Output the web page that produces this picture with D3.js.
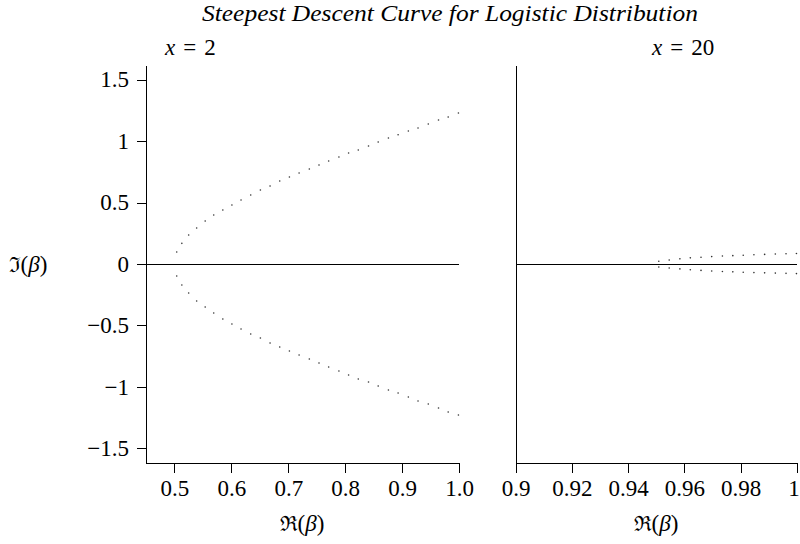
<!DOCTYPE html>
<html>
<head>
<meta charset="utf-8">
<script src="https://cdn.jsdelivr.net/npm/d3@7"></script>
<style>
  html, body { margin: 0; padding: 0; background: #fff; }
  svg { display: block; }
  .axis path, .axis line { stroke: #000; stroke-width: 1; shape-rendering: crispEdges; }
</style>
</head>
<body>
<svg id="chart" width="800" height="544"></svg>
<script>
// Steepest descent path points, x = 2 (real part, upper and lower imaginary parts)
const re2 = [0.504, 0.513, 0.525, 0.539, 0.554, 0.569, 0.585, 0.601, 0.617, 0.634, 0.651,
             0.668, 0.685, 0.702, 0.719, 0.737, 0.754, 0.771, 0.789, 0.806, 0.823, 0.841,
             0.858, 0.876, 0.893, 0.911, 0.928, 0.946, 0.964, 0.981, 0.999];
const imUpper2 = [0.098, 0.168, 0.236, 0.293, 0.350, 0.398, 0.439, 0.480, 0.520, 0.561, 0.602,
                  0.634, 0.675, 0.707, 0.740, 0.772, 0.805, 0.837, 0.870, 0.902, 0.927, 0.959,
                  0.992, 1.024, 1.051, 1.081, 1.106, 1.138, 1.171, 1.195, 1.228];
const imLower2 = [-0.098, -0.171, -0.236, -0.301, -0.350, -0.398, -0.447, -0.488, -0.528, -0.569, -0.602,
                  -0.642, -0.675, -0.707, -0.740, -0.772, -0.805, -0.837, -0.870, -0.902, -0.935, -0.959,
                  -0.992, -1.024, -1.049, -1.081, -1.114, -1.138, -1.171, -1.203, -1.228];

// Steepest descent path points, x = 20
const re20 = [0.9509, 0.9546, 0.9584, 0.9621, 0.9659, 0.9697, 0.9735, 0.9772, 0.9809,
              0.9847, 0.9885, 0.9923, 0.9961, 0.9998];
const imUpper20 = [0.022, 0.033, 0.042, 0.050, 0.055, 0.060, 0.065, 0.068, 0.071, 0.075,
                   0.078, 0.081, 0.083, 0.085];
const imLower20 = [-0.024, -0.032, -0.040, -0.047, -0.052, -0.057, -0.061, -0.064, -0.067,
                   -0.070, -0.072, -0.074, -0.076, -0.078];

// Axis ticks and labels
const yTicks = [1.5, 1, 0.5, 0, -0.5, -1, -1.5];
const yTickLabels = ["1.5", "1", "0.5", "0", "\u22120.5", "\u22121", "\u22121.5"];
const xTicksLeft = [0.5, 0.6, 0.7, 0.8, 0.9, 1.0];
const xTickLabelsLeft = ["0.5", "0.6", "0.7", "0.8", "0.9", "1.0"];
const xTicksRight = [0.9, 0.92, 0.94, 0.96, 0.98, 1.0];
const xTickLabelsRight = ["0.9", "0.92", "0.94", "0.96", "0.98", "1"];

const SERIF = "Liberation Serif";
const svg = d3.select("#chart")
  .attr("font-family", SERIF)
  .style("font-family", SERIF);

const y = d3.scaleLinear().domain([-1.618, 1.618]).range([463, 65]);
const xL = d3.scaleLinear().domain([0.45, 1.0]).range([146, 459]);
const xR = d3.scaleLinear().domain([0.9, 1.0]).range([515.5, 797]);

function styleTicks(g) {
  g.attr("font-family", SERIF).attr("font-size", 23);
  g.selectAll("text").attr("font-family", SERIF).style("font-family", SERIF)
    .attr("font-size", 23).attr("fill", "#000");
}

// Left panel axes
svg.append("g").attr("class", "axis")
  .attr("transform", `translate(${xL.range()[0]},0)`)
  .call(d3.axisLeft(y).tickValues(yTicks)
    .tickFormat((d, i) => yTickLabels[i]).tickSize(9).tickSizeOuter(0).tickPadding(8))
  .call(styleTicks);

svg.append("g").attr("class", "axis")
  .attr("transform", `translate(0,${y.range()[0]})`)
  .call(d3.axisBottom(xL).tickValues(xTicksLeft)
    .tickFormat((d, i) => xTickLabelsLeft[i]).tickSize(10).tickSizeOuter(0).tickPadding(7))
  .call(styleTicks);

// Right panel axes
svg.append("g").attr("class", "axis")
  .attr("transform", `translate(${xR.range()[0]},0)`)
  .call(d3.axisLeft(y).tickValues([]).tickSizeOuter(0));

svg.append("g").attr("class", "axis")
  .attr("transform", `translate(0,${y.range()[0]})`)
  .call(d3.axisBottom(xR).tickValues(xTicksRight)
    .tickFormat((d, i) => xTickLabelsRight[i]).tickSize(10).tickSizeOuter(0).tickPadding(7))
  .call(styleTicks)
  // keep the last label inside the frame
  .call(g => g.selectAll(".tick text").filter((d, i, n) => i === n.length - 1)
    .attr("text-anchor", "end").attr("dx", "0.1em"));

// Zero lines
[xL, xR].forEach(x => {
  svg.append("line")
    .attr("x1", x.range()[0]).attr("x2", x.range()[1])
    .attr("y1", y(0)).attr("y2", y(0))
    .attr("stroke", "#000").attr("stroke-width", 1)
    .attr("shape-rendering", "crispEdges");
});

// Dotted paths
function dots(x, re, im) {
  svg.append("g").selectAll("circle")
    .data(re.map((r, i) => [r, im[i]]))
    .join("circle")
    .attr("cx", d => x(d[0]))
    .attr("cy", d => y(d[1]))
    .attr("r", 0.8)
    .attr("fill", "#333");
}
dots(xL, re2, imUpper2);
dots(xL, re2, imLower2);
dots(xR, re20, imUpper20);
dots(xR, re20, imLower20);

// Title
svg.append("text")
  .attr("x", 450).attr("y", 21)
  .attr("text-anchor", "middle")
  .attr("font-family", SERIF)
  .attr("font-style", "italic")
  .attr("font-size", 24)
  .attr("textLength", 496)
  .attr("lengthAdjust", "spacingAndGlyphs")
  .text("Steepest Descent Curve for Logistic Distribution");

// Panel titles
function panelTitle(xPos, value) {
  const t = svg.append("text").attr("x", xPos).attr("y", 55)
    .attr("font-family", SERIF).attr("font-size", 23);
  t.append("tspan").attr("font-style", "italic").text("x");
  t.append("tspan").attr("dx", 8).text("=");
  t.append("tspan").attr("dx", 8).text(value);
}
panelTitle(165, "2");
panelTitle(652, "20");

// Axis labels
function betaLabel(xPos, yPos, sym) {
  const t = svg.append("text")
    .attr("x", xPos).attr("y", yPos)
    .attr("text-anchor", "middle")
    .attr("font-family", SERIF)
    .attr("font-size", 23);
  t.append("tspan").attr("font-family", "DejaVu Serif").attr("font-size", 21).text(sym);
  t.append("tspan").text("(");
  t.append("tspan").attr("font-style", "italic").text("\u03B2");
  t.append("tspan").text(")");
}
betaLabel(302, 531, "\u211C");
betaLabel(656, 531, "\u211C");
betaLabel(28, 272, "\u2111");
</script>
</body>
</html>
